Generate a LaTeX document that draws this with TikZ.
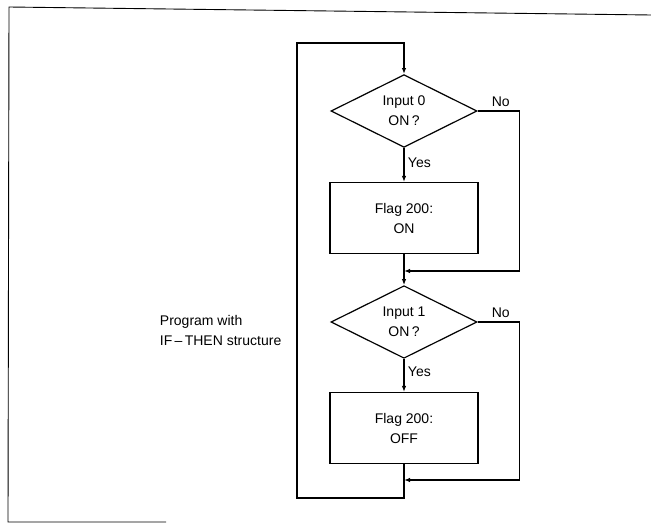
\documentclass[tikz,border=0pt]{standalone}
\usepackage{fontspec}
\setmainfont{Liberation Sans}
\usetikzlibrary{shapes.geometric,arrows.meta}
\begin{document}
\begin{tikzpicture}[x=1pt,y=-1pt,line width=1.2pt,
  decision/.style={draw,diamond,inner sep=0pt,minimum width=146pt,minimum height=70pt,align=center},
  flagbox/.style={draw,rectangle,minimum width=148pt,minimum height=71pt,align=center},
  flow/.style={-{Latex[length=6pt,width=4.5pt]}},
  lbl/.style={font=\fontsize{14}{20}\selectfont}]
\useasboundingbox (0,0) rectangle (651,524);
% frame of the page
\draw[line width=0.9pt] (651,15) -- (9,7) -- (8,522) -- (166,522);

\node[decision,lbl] (in0) at (404,111) {Input 0\\ON\,?};
\node[flagbox,lbl] (fl1) at (404,218) {Flag 200:\\ON};
\coordinate (mrg1) at (404,271);
\node[decision,lbl] (in1) at (404,322) {Input 1\\ON\,?};
\node[flagbox,lbl] (fl2) at (404,428) {Flag 200:\\OFF};
\coordinate (mrg2) at (404,480);
\coordinate (loopbot) at (404,498);
\coordinate (loopleft) at (297,270);
\coordinate (looptop) at (404,43);

\node[lbl,align=left,anchor=west] (prog) at (156,330) {Program with\\IF\,--\,THEN structure};

\draw[flow] (fl2.south) -- (loopbot) -| (loopleft) |- (looptop) -- (in0.north);
\draw[flow] (in0.south) -- node[lbl,right,pos=0.45] {Yes} (fl1.north);
\draw (fl1.south) -- (mrg1);
\draw[flow] (in0.east) -- node[lbl,above,pos=0.55] {No} ++(42,0) |- (mrg1);
\draw[flow] (mrg1) -- (in1.north);
\draw[flow] (in1.south) -- node[lbl,right,pos=0.4] {Yes} (fl2.north);
\draw (fl2.south) -- (mrg2);
\draw[flow] (in1.east) -- node[lbl,above,pos=0.55] {No} ++(42,0) |- (mrg2);
\end{tikzpicture}
\end{document}
